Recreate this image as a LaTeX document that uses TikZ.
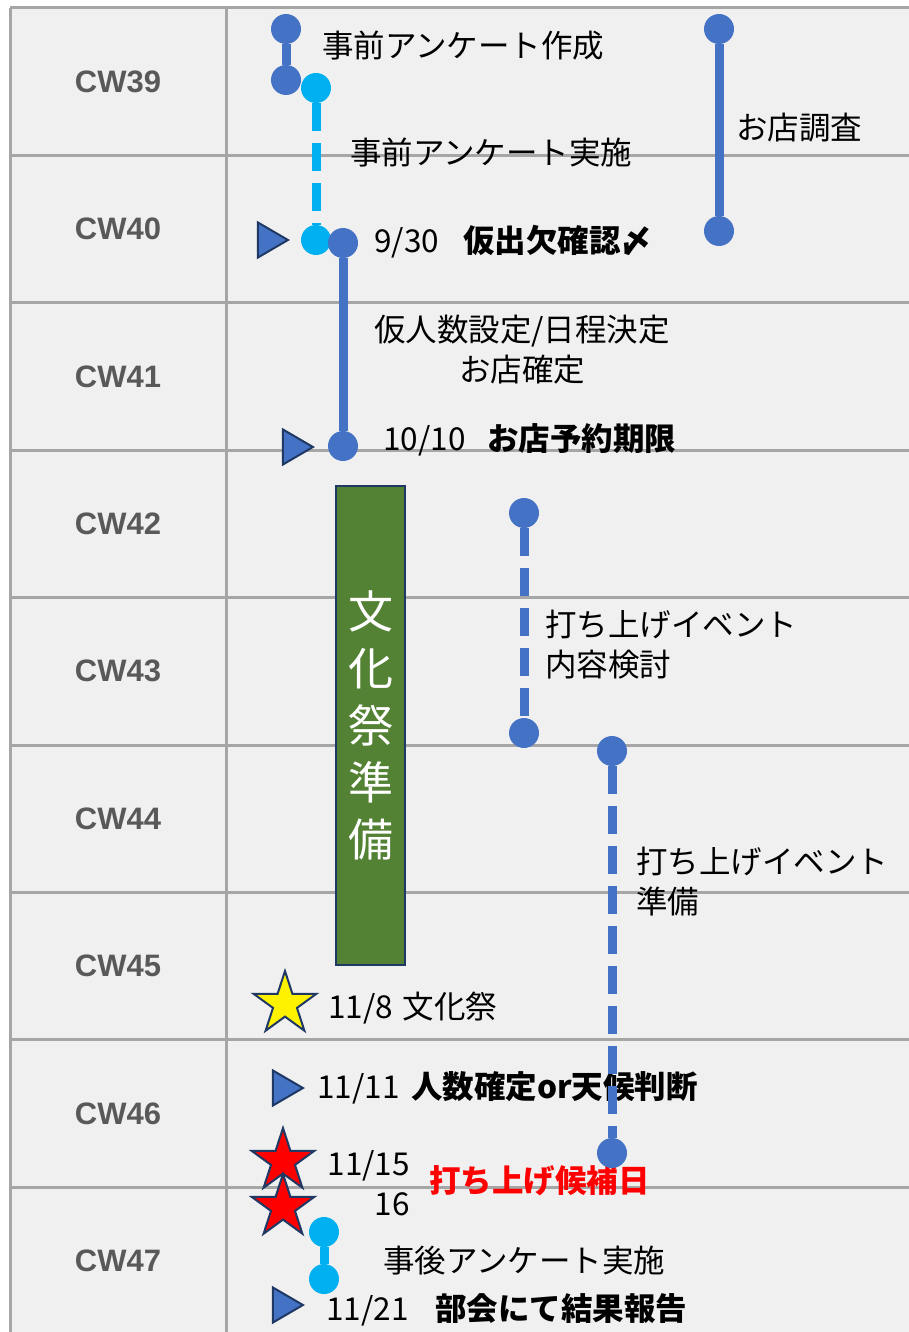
\documentclass[tikz,border=0pt]{standalone}
\usepackage{fontspec}
\setmainfont{Noto Sans CJK JP}
\newfontfamily\cwfont{Liberation Sans}
\usetikzlibrary{shapes.geometric}

\definecolor{gridline}{HTML}{A6A6A6}
\definecolor{cellbg}{HTML}{F0F0F0}
\definecolor{navy}{HTML}{1F3864}
\definecolor{accent}{HTML}{4472C4}
\definecolor{sky}{HTML}{00B0F0}
\definecolor{festgreen}{HTML}{548235}
\definecolor{cwgray}{HTML}{595959}

\tikzset{
  dot/.style={
    circle,
    fill=accent,
    minimum size=30pt,
    inner sep=0pt,
  },
  skydot/.style={
    dot,
    fill=sky,
  },
  bar/.style={
    draw=accent,
    line width=9pt,
  },
  dbar/.style={
    bar,
    dash pattern=on 28pt off 12pt,
  },
  flag/.style={
    isosceles triangle,
    isosceles triangle stretches,
    minimum width=35pt,
    minimum height=30pt,
    inner sep=0pt,
    fill=accent,
    draw=navy,
    line width=2pt,
  },
  feststar/.style={
    star,
    star points=5,
    star point ratio=2.618,
    minimum size=66pt,
    inner sep=0pt,
    draw=navy,
    line width=2pt,
  },
  lbl/.style={
    anchor=west,
    inner sep=0pt,
    font=\fontsize{31.5}{40}\selectfont,
    text height=26pt,
    text depth=6pt,
  },
  lbls/.style={
    inner sep=0pt,
    font=\fontsize{31.5}{40}\selectfont,
  },
  cw/.style={
    font=\cwfont\bfseries\fontsize{31}{36}\selectfont,
    text=cwgray,
  },
}

\begin{document}
\begin{tikzpicture}[x=1pt, y=-1pt]

      \useasboundingbox (0,0) rectangle (909,1332);
      \fill[white] (0,0) rectangle (909,1332);
      \fill[cellbg] (10,8) rectangle (909,1332);

      % grid
      \foreach \k in {0,...,8} {
          \draw[gridline, line width=3pt] (10,{8+147.4*\k}) -- (909,{8+147.4*\k});
      };
      \draw[gridline, line width=3pt] (10,8) -- (10,1332) (226,8) -- (226,1332);

      \foreach \w [count=\k from 0] in {39,...,47} {
          \node[cw](cw\w) at (118,{81.7+147.4*\k}) {CW\w};
      };

      % labels
      \node[lbl](l1) at (322,48) {事前アンケート作成};
      \node[lbl](l2) at (350,155) {事前アンケート実施};
      \node[lbl](l3) at (736,130) {お店調査};
      \node[lbl](l4) at (374,243) {9/30};
      \node[lbl](l4b) at (463,243) {\bfseries 仮出欠確認〆};
      \node[lbls, align=center](l5) at (522,350) {仮人数設定/日程決定\\お店確定};
      \node[lbl](l8) at (383,440) {10/10};
      \node[lbl](l8b) at (487,440) {\bfseries お店予約期限};
      \node[lbls, align=left, anchor=west](l6) at (545,645) {打ち上げイベント\\内容検討};
      \node[lbls, align=left, anchor=west](l7) at (636,882) {打ち上げイベント\\準備};
      \node[lbl](l9) at (328,1008) {11/8\hspace{10pt}文化祭};
      \node[lbl](l10) at (317,1088) {11/11};
      \node[lbl](l10b) at (411,1088) {\bfseries 人数確定or天候判断};
      \node[lbls, align=right, anchor=east](l11) at (410,1183) {11/15\\16};
      \node[lbl, text=red](l11b) at (429,1182) {\bfseries 打ち上げ候補日};
      \node[lbl](l12) at (383,1262) {事後アンケート実施};
      \node[lbl](l13) at (326,1310) {11/21};
      \node[lbl](l13b) at (435,1310) {\bfseries 部会にて結果報告};

      % festival box
      \node[rectangle, fill=festgreen, draw=navy, line width=2pt,
            minimum width=69pt, minimum height=479pt, inner sep=0pt,
            text=white, align=center, font=\fontsize{45}{57}\selectfont]
            (box) at (370.5,725.5) {文\\化\\祭\\準\\備};

      % milestones
      \node[flag](t1) at (268,240) {};
      \node[flag](t2) at (293,447) {};
      \node[flag](t3) at (283,1088) {};
      \node[flag](t4) at (283,1305) {};
      \node[feststar, fill=yellow](s1) at (285,1004) {};
      \node[feststar, fill=red](s2) at (283,1161) {};
      \node[feststar, fill=red](s3) at (283,1207) {};

      % tasks
      \node[dot](a1) at (286,29) {};
      \node[dot](a2) at (286,80) {};
      \node[skydot](b1) at (316,88) {};
      \node[skydot](b2) at (316,240) {};
      \node[dot](c1) at (719,29) {};
      \node[dot](c2) at (719,231) {};
      \node[dot](d1) at (343,243) {};
      \node[dot](d2) at (343,446) {};
      \node[dot](e1) at (524,513) {};
      \node[dot](e2) at (524,733) {};
      \node[dot](f1) at (612,751) {};
      \node[dot](f2) at (612,1153) {};
      \node[skydot](g1) at (324,1232) {};
      \node[skydot](g2) at (324,1279) {};

      \draw[bar] (a1)--(a2) (c1)--(c2) (d1)--(d2);
      \draw[dbar, draw=sky] (b1)--(b2);
      \draw[dbar] (e1)--(e2) (f1)--(f2);
      \draw[bar, draw=sky] (g1)--(g2);

    \end{tikzpicture}
\end{document}
